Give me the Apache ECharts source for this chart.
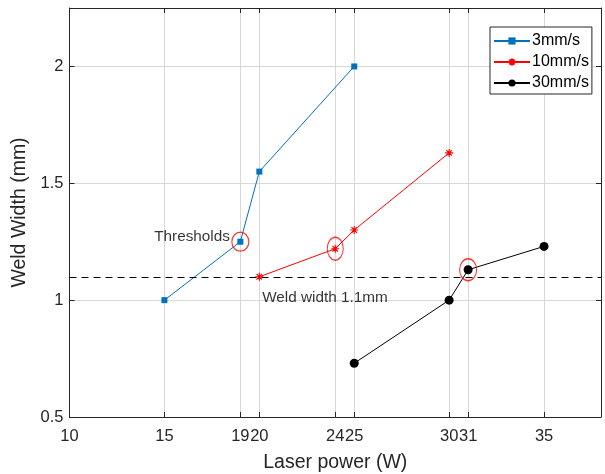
<!DOCTYPE html>
<html>
<head>
<meta charset="utf-8">
<script src="https://cdn.jsdelivr.net/npm/echarts@6/dist/echarts.min.js"></script>
<style>html,body{margin:0;padding:0;background:#fff}#c{width:605px;height:474px}</style>
</head>
<body>
<div id="c"></div>
<script>
const xTicks = [10, 15, 19, 20, 24, 25, 30, 31, 35];
const yTicks = [0.5, 1, 1.5, 2];
const seriesNames = ['3mm/s', '10mm/s', '30mm/s'];
const power3 = [15, 19, 20, 25];
const width3 = [1.0, 1.25, 1.55, 2.0];
const power10 = [20, 24, 25, 30];
const width10 = [1.1, 1.22, 1.3, 1.63];
const power30 = [25, 30, 31, 35];
const width30 = [0.73, 1.0, 1.13, 1.23];
const thresholdPower = [19, 24, 31];
const thresholdWidth = [1.25, 1.22, 1.13];
const weldLimit = 1.1;
const annotationText = ['Thresholds', 'Weld width 1.1mm'];
const annotationPower = [18.45, 20.15];
const annotationWidth = [1.27, 1.011];

const FONT = 'Liberation Sans, Arial, sans-serif';
const AX = '#262626';
const pair = (xs, ys) => xs.map((x, i) => [x, ys[i]]);
const ellipseSizes = [[17, 19], [16, 23], [17, 22]];
const asterisk = 'path://M5,0L5,10M0,5L10,5M1.5,1.5L8.5,8.5M1.5,8.5L8.5,1.5';

const xBase = {
  type: 'value', min: 10, max: 38,
  axisLine: { show: true, onZero: false, lineStyle: { color: AX, width: 1 } },
  axisTick: { show: true, inside: true, length: 5, customValues: xTicks, lineStyle: { color: AX } },
  splitLine: { show: true, lineStyle: { color: '#d8d8d8', width: 1 } },
  axisLabel: { show: true, customValues: xTicks, color: AX, fontSize: 16.5, fontFamily: FONT, margin: 11 }
};
const yBase = {
  type: 'value', min: 0.5, max: 2.25,
  axisLine: { show: true, onZero: false, lineStyle: { color: AX, width: 1 } },
  axisTick: { show: true, inside: true, length: 5, customValues: yTicks, lineStyle: { color: AX } },
  splitLine: { show: true, lineStyle: { color: '#d8d8d8', width: 1 } },
  axisLabel: { show: true, customValues: yTicks, color: AX, fontSize: 16.5, fontFamily: FONT, margin: 6 }
};

const chart = echarts.init(document.getElementById('c'), null, { renderer: 'canvas' });
chart.setOption({
  animation: false,
  backgroundColor: '#fff',
  grid: { left: 69.5, top: 8, right: 4, bottom: 57, containLabel: false, outerBoundsMode: 'none' },
  legend: {
    data: seriesNames,
    orient: 'vertical',
    left: 490, top: 27,
    padding: [6, 3, 3, 3],
    itemGap: 5,
    itemWidth: 36, itemHeight: 9,
    backgroundColor: '#fff',
    borderColor: AX, borderWidth: 1,
    textStyle: { color: '#000', fontSize: 16, fontFamily: FONT, padding: [0, 0, 0, -3] }
  },
  xAxis: [
    Object.assign({}, xBase, {
      position: 'bottom',
      name: 'Laser power (W)', nameLocation: 'middle', nameGap: 36,
      nameTextStyle: { color: AX, fontSize: 19.5, fontFamily: FONT }
    }),
    Object.assign({}, xBase, {
      position: 'top', splitLine: { show: false },
      axisLabel: { show: false }
    })
  ],
  yAxis: [
    Object.assign({}, yBase, {
      position: 'left',
      name: 'Weld Width (mm)', nameLocation: 'middle', nameGap: 30,
      nameTextStyle: { color: AX, fontSize: 19.5, fontFamily: FONT }
    }),
    Object.assign({}, yBase, {
      position: 'right', splitLine: { show: false },
      axisLabel: { show: false }
    })
  ],
  series: [
    {
      name: 'limit', type: 'line', data: [], xAxisIndex: 0, yAxisIndex: 0,
      silent: true, z: 1,
      markLine: {
        silent: true, symbol: ['none', 'none'], label: { show: false },
        lineStyle: { color: '#000', type: [7, 5], width: 1 },
        data: [{ yAxis: weldLimit }]
      }
    },
    {
      name: seriesNames[0], type: 'line', data: pair(power3, width3),
      symbol: 'rect', symbolSize: 6, showSymbol: true,
      lineStyle: { color: '#0072BD', width: 1 },
      itemStyle: { color: '#0072BD' }, z: 3
    },
    {
      name: seriesNames[1], type: 'line', data: pair(power10, width10),
      symbol: asterisk, symbolSize: 8, showSymbol: true,
      lineStyle: { color: '#FF0000', width: 1 },
      itemStyle: { color: '#FF0000', borderColor: '#FF0000', borderWidth: 1.1 }, z: 3
    },
    {
      name: seriesNames[2], type: 'line', data: pair(power30, width30),
      symbol: 'circle', symbolSize: 9, showSymbol: true,
      lineStyle: { color: '#000', width: 1 },
      itemStyle: { color: '#000' }, z: 3
    },
    {
      name: 'thresholds', type: 'scatter', data: pair(thresholdPower, thresholdWidth),
      symbol: 'circle',
      symbolSize: (v, p) => ellipseSizes[p.dataIndex],
      itemStyle: { color: 'rgba(0,0,0,0)', borderColor: '#FF0000', borderWidth: 1.2 },
      silent: true, z: 4
    },
    {
      name: 'notes', type: 'scatter', symbolSize: 0, silent: true, z: 5,
      data: annotationText.map((t, i) => ({
        value: [annotationPower[i], annotationWidth[i]],
        label: {
          show: true, formatter: t,
          position: i === 0 ? 'left' : 'right',
          distance: 0,
          color: '#000', fontSize: 15.3, fontFamily: FONT
        }
      }))
    }
  ]
});
</script>
</body>
</html>
